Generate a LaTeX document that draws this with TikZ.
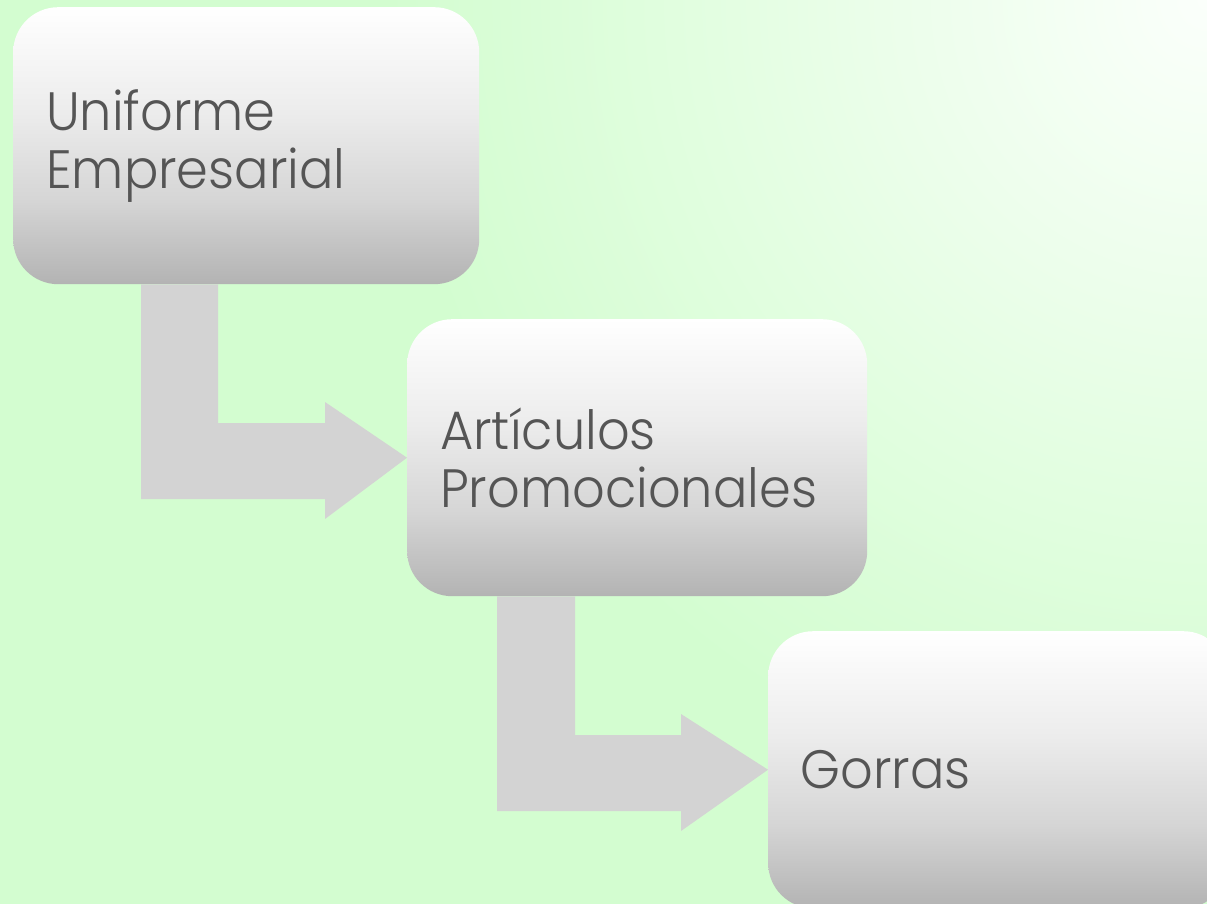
\documentclass[tikz,border=0pt]{standalone}
\usepackage{fontspec}
\setmainfont{Poppins}[UprightFont=* Light, FakeStretch=0.945]
\usetikzlibrary{calc}
\definecolor{bggreen}{HTML}{D3FDD0}
\definecolor{bgwhite}{HTML}{FBFFFB}
\definecolor{arrowgray}{HTML}{D3D3D3}
\definecolor{txtgray}{HTML}{555555}
\definecolor{bA}{HTML}{B3B3B3}
\definecolor{bB}{HTML}{D5D5D5}
\definecolor{bC}{HTML}{ECECEC}
\definecolor{bD}{HTML}{FFFFFF}
\pgfdeclareverticalshading{boxshade}{100bp}{color(0bp)=(bA); color(25bp)=(bA); color(40bp)=(bB); color(56bp)=(bC); color(75bp)=(bD); color(100bp)=(bD)}
\tikzset{
  stepbox/.style={rectangle, rounded corners=45pt, shading=boxshade, draw=none,
    minimum height=277pt, inner xsep=33pt, inner ysep=0pt, align=left,
    text=txtgray, font=\fontsize{54}{58}\selectfont, anchor=north west},
  bentarrow/.style={fill=arrowgray, draw=none}
}
\begin{document}
\begin{tikzpicture}[x=1pt,y=-1pt]
\useasboundingbox (0,0) rectangle (1207,904);
\clip (0,0) rectangle (1207,904);
\fill[bggreen] (0,0) rectangle (1207,904);
\shade[inner color=bgwhite, outer color=bggreen] (1207,0) circle (820);
\node[stepbox, minimum width=466pt, text width=400pt] (b1) at (13,7) {Uniforme\\Empresarial};
\node[stepbox, minimum width=460pt, text width=394pt] (b2) at (407,319) {Artículos\\Promocionales};
\node[stepbox, minimum width=460pt, text width=395pt, inner xsep=32pt] (b3) at (768,631) {Gorras};
\fill[bentarrow] ($(b1.south west)+(128,0)$) -- ($(b1.south west)+(205,0)$) -- (218,423) -- (325,423) -- (325,402) -- (b2.west) -- (325,519) -- (325,499) -- (141,499) -- cycle;
\fill[bentarrow] ($(b2.south west)+(90,0)$) -- ($(b2.south west)+(168,0)$) -- (575,735) -- (681,735) -- (681,714) -- (b3.west) -- (681,831) -- (681,811) -- (497,811) -- cycle;
\end{tikzpicture}
\end{document}
